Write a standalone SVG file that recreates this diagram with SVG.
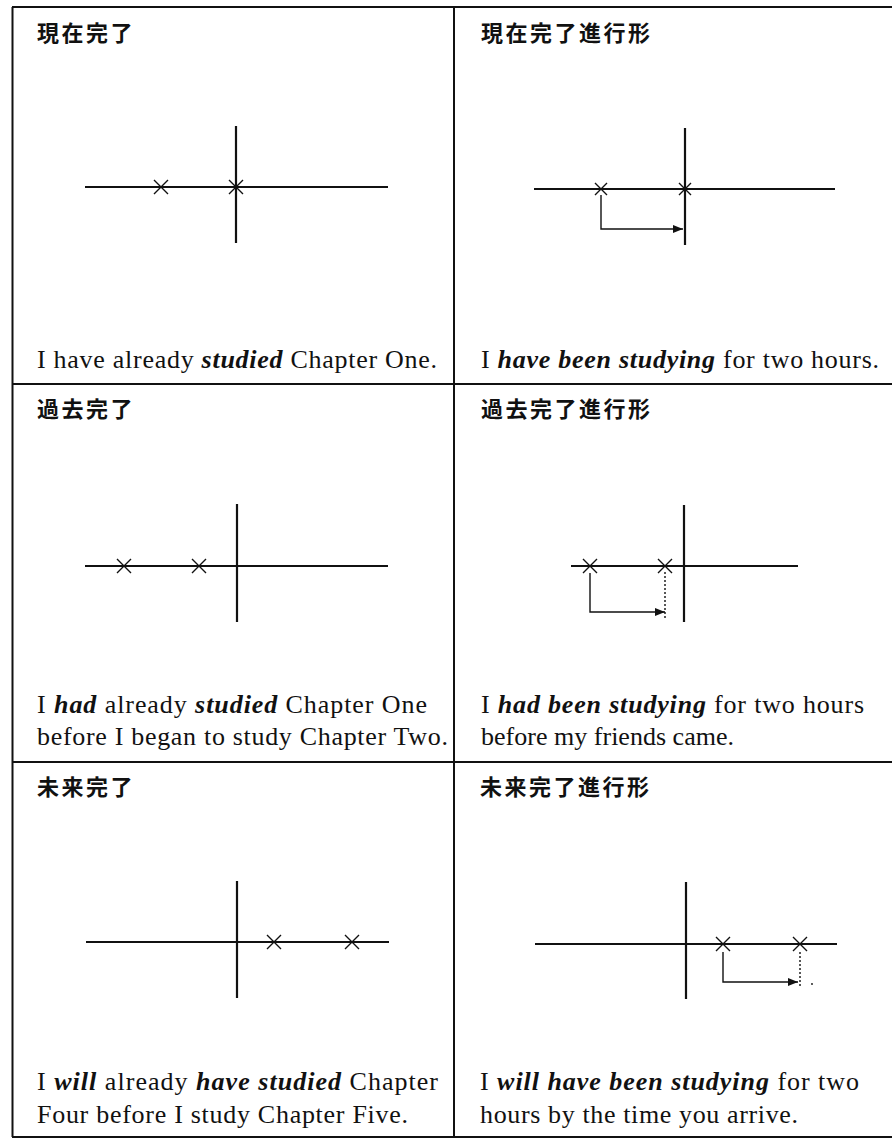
<svg xmlns="http://www.w3.org/2000/svg" width="892" height="1138" viewBox="0 0 892 1138">
<style>
.border{stroke:#111;stroke-width:2;fill:none}
.axis{stroke:#111;stroke-width:2.2;fill:none}
.mark{stroke:#111;stroke-width:1.4;fill:none}
.bracket{stroke:#111;stroke-width:1.4;fill:none}
.dotted{stroke:#111;stroke-width:1.4;stroke-dasharray:2 2;fill:none}
.title{font-family:"Noto Sans CJK JP","Noto Sans CJK SC",sans-serif;font-weight:700;font-size:22px;letter-spacing:2.5px;fill:#111}
.sent{font-family:"Liberation Serif","Times New Roman",serif;font-size:26px;fill:#111}
.em{font-weight:bold;font-style:italic}
</style>
<defs>
<path id="x7" d="M-7,-7L7,7M-7,7L7,-7" class="mark"/>
<path id="x6" d="M-6,-6L6,6M-6,6L6,-6" class="mark"/>
<marker id="ah" viewBox="0 0 10 8" refX="10" refY="4" markerWidth="10" markerHeight="8" markerUnits="userSpaceOnUse" orient="auto"><path d="M0,0L10,4L0,8z" fill="#111"/></marker>
</defs>
<rect width="892" height="1138" fill="#fff"/>
<g id="frame">
<path class="border" d="M12,7H892M12.5,7V1137M454,7V1137M12,384H892M12,762H892M12,1137H892"/>
</g>
<g id="panel-present-perfect">
<text class="title" x="37" y="41">現在完了</text>
<path class="axis" d="M85,187H388M236,126V243"/>
<use href="#x7" x="161" y="187"/>
<use href="#x7" x="236" y="187"/>
<text class="sent" x="37" y="368" textLength="400" lengthAdjust="spacing">I have already <tspan class="em">studied</tspan> Chapter One.</text>
</g>
<g id="panel-present-perfect-progressive">
<text class="title" x="481" y="41">現在完了進行形</text>
<path class="axis" d="M534,189H835M685,128V245"/>
<use href="#x6" x="601" y="189"/>
<use href="#x6" x="685" y="189"/>
<text class="sent" x="481" y="368" textLength="398" lengthAdjust="spacing">I <tspan class="em">have been studying</tspan> for two hours.</text>
</g>
<g id="panel-past-perfect">
<text class="title" x="37" y="417">過去完了</text>
<path class="axis" d="M85,566H388M237,504V622"/>
<use href="#x7" x="124" y="566"/>
<use href="#x7" x="199" y="566"/>
<text class="sent" x="37" y="713" textLength="390" lengthAdjust="spacing">I <tspan class="em">had</tspan> already <tspan class="em">studied</tspan> Chapter One</text>
<text class="sent" x="37" y="745" textLength="411" lengthAdjust="spacing">before I began to study Chapter Two.</text>
</g>
<g id="panel-past-perfect-progressive">
<text class="title" x="481" y="417">過去完了進行形</text>
<path class="axis" d="M571,566H798M684,505V622"/>
<use href="#x7" x="590" y="566"/>
<use href="#x7" x="665" y="566"/>
<path class="dotted" d="M665,572V620"/>
<text class="sent" x="481" y="713" textLength="383" lengthAdjust="spacing">I <tspan class="em">had been studying</tspan> for two hours</text>
<text class="sent" x="481" y="745" textLength="253" lengthAdjust="spacing">before my friends came.</text>
</g>
<g id="panel-future-perfect">
<text class="title" x="37" y="795">未来完了</text>
<path class="axis" d="M86,942H389M237,881V998"/>
<use href="#x7" x="274" y="942"/>
<use href="#x7" x="352" y="942"/>
<text class="sent" x="37" y="1090" textLength="401" lengthAdjust="spacing">I <tspan class="em">will</tspan> already <tspan class="em">have studied</tspan> Chapter</text>
<text class="sent" x="37" y="1123" textLength="371" lengthAdjust="spacing">Four before I study Chapter Five.</text>
</g>
<g id="panel-future-perfect-progressive">
<text class="title" x="480" y="795">未来完了進行形</text>
<path class="axis" d="M535,944H837M686,882V999"/>
<use href="#x7" x="723" y="944"/>
<use href="#x7" x="800" y="944"/>
<path class="dotted" d="M800,952V987"/>
<circle cx="812" cy="984" r="0.9" fill="#111"/>
<text class="sent" x="480" y="1090" textLength="379" lengthAdjust="spacing">I <tspan class="em">will have been studying</tspan> for two</text>
<text class="sent" x="480" y="1123" textLength="318" lengthAdjust="spacing">hours by the time you arrive.</text>
</g>
<g id="connectors">
<path class="bracket" d="M601,195V229H683" marker-end="url(#ah)"/>
<path class="bracket" d="M590,573V612H665" marker-end="url(#ah)"/>
<path class="bracket" d="M723,952V982H798" marker-end="url(#ah)"/>
</g>
</svg>
